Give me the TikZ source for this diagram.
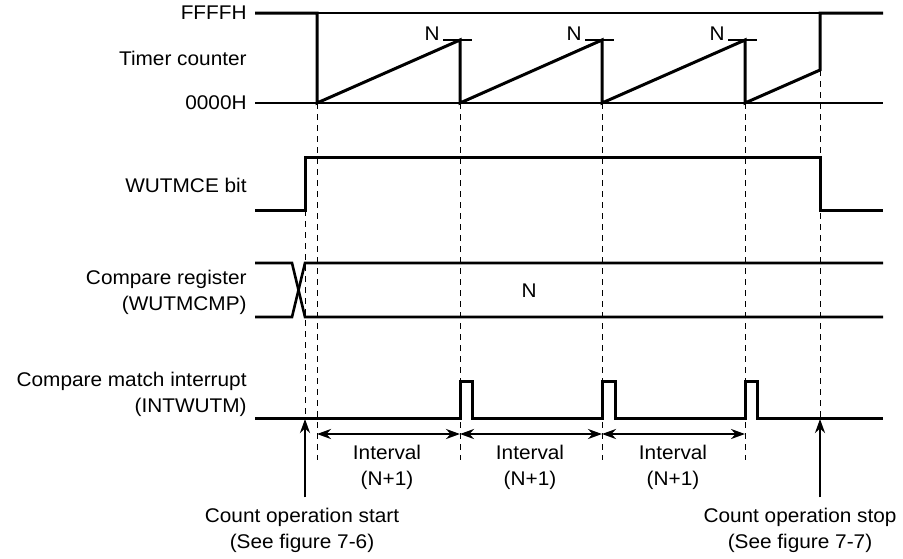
\documentclass[tikz,border=0pt]{standalone}
\usepackage{fontspec}
\setmainfont{Liberation Sans}[FakeStretch=1.05]
\usetikzlibrary{arrows.meta}

\begin{document}
\begin{tikzpicture}[x=0.5pt, y=-0.5pt, >=Stealth,
    sig/.style={line width=1.5pt},
    reg/.style={line width=1.3pt},
    base/.style={line width=0.6pt},
    guide/.style={line width=0.5pt, dash pattern=on 3pt off 2.5pt},
    arr/.style={line width=1.2pt, -{Stealth[length=7pt, width=5pt]}},
    dim/.style={line width=1.2pt, {Stealth[length=7pt, width=5pt]}-{Stealth[length=7pt, width=5pt]}},
    lbl/.style={anchor=east, inner sep=0pt, align=right},
    txt/.style={inner sep=0pt, align=center},
    font=\fontsize{9.9}{13}\selectfont]
    \useasboundingbox (0,0) rectangle (903,558);

    % Signal labels
    \node[lbl] (ffff) at (247,13) {FFFFH};
    \node[lbl] (tmr) at (247,58) {Timer counter};
    \node[lbl] (zero) at (247,103) {0000H};
    \node[lbl] (wutmce) at (247,185) {WUTMCE bit};
    \node[lbl] (cmpreg) at (247,292) {Compare register\\(WUTMCMP)};
    \node[lbl] (intwutm) at (247,394) {Compare match interrupt\\(INTWUTM)};

    % Dashed time marks
    \draw[guide] (305,210) -- (305,418);
    \foreach \x in {317,460,602,745}
        \draw[guide] (\x,103) -- (\x,460);
    \draw[guide] (820,70) -- (820,418);

    % Timer counter
    \draw[base] (255,13) -- (883,13);
    \draw[base] (255,103) -- (883,103);
    \draw[sig] (255,13) -- (317,13) -- (317,103) -- (460,40) -- (460,103)
        -- (602,40) -- (602,103) -- (745,40) -- (745,103) -- (820,70)
        -- (820,13) -- (883,13);
    \foreach \x/\nm in {460/na, 602/nb, 745/nc} {
        \draw[base] (\x-17,40) -- (\x+12,40);
        \node[txt] (\nm) at (\x-28,34) {N};
    }

    % WUTMCE bit
    \draw[sig] (255,210) -- (305,210) -- (305,157) -- (820,157) -- (820,210) -- (883,210);

    % Compare register
    \draw[reg] (255,263) -- (292,263) -- (305,317) -- (883,317);
    \draw[reg] (255,317) -- (292,317) -- (305,263) -- (883,263);
    \node[txt] (nval) at (529,291) {N};

    % Compare match interrupt
    \draw[sig] (255,418) -- (460,418) -- (460,381) -- (472,381) -- (472,418)
        -- (602,418) -- (602,381) -- (615,381) -- (615,418)
        -- (745,418) -- (745,381) -- (757,381) -- (757,418) -- (883,418);

    % Intervals
    \coordinate (ms) at (317,434);
    \coordinate (ma) at (460,434);
    \coordinate (mb) at (602,434);
    \coordinate (mc) at (745,434);
    \draw[dim] (ms) -- (ma);
    \draw[dim] (ma) -- (mb);
    \draw[dim] (mb) -- (mc);
    \node[txt] (iv1) at (387,467) {Interval\\(N+1)};
    \node[txt] (iv2) at (530,467) {Interval\\(N+1)};
    \node[txt] (iv3) at (673,467) {Interval\\(N+1)};

    % Start and stop
    \coordinate (ps) at (305,419);
    \coordinate (pe) at (820,419);
    \node[txt] (start) at (302,530) {Count operation start\\(See figure 7-6)};
    \node[txt] (stop) at (800,530) {Count operation stop\\(See figure 7-7)};
    \draw[arr] ([yshift=5pt]start.north -| ps) -- (ps);
    \draw[arr] ([yshift=5pt]stop.north -| pe) -- (pe);
\end{tikzpicture}
\end{document}
